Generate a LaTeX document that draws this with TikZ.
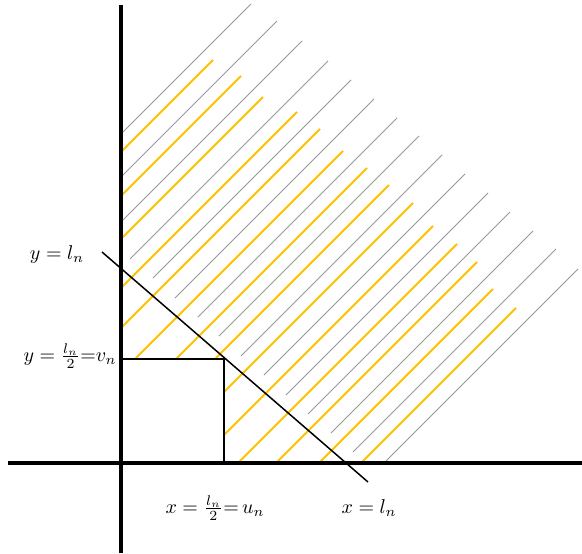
\documentclass[tikz,border=0pt]{standalone}
\usetikzlibrary{positioning}
\definecolor{hatchgold}{HTML}{FFC000}
\definecolor{hatchgray}{HTML}{999999}

\begin{document}
\begin{tikzpicture}[x=0.5pt, y=0.5pt,
  axisline/.style={line width=1.7pt},
  cutline/.style={line width=0.75pt},
  boxline/.style={line width=0.6pt},
  grayhatch/.style={draw=hatchgray, line width=0.45pt},
  goldhatch/.style={draw=hatchgold, line width=1pt},
  lbl/.style={inner sep=0pt}]
\useasboundingbox (-121,-90) rectangle (461,463);
% gray hatching: region above the cut
\foreach \xa/\ya/\xb/\yb in {0/329/130/459, 0/286/156/442, 0/241/181/422,
    9/204/207/402, 32/185/230/383, 54/165/253/364, 77/146/276/345,
    98/127/298/327, 120/107/321/308, 143/88/344/289, 165/68/367/270,
    187/49/389/251, 210/30/412/232, 232/11/435/214, 263/0/457/194}
  \draw[grayhatch] (\xa,\ya) -- (\xb,\yb);
% gold hatching: quadrant minus the box
\foreach \xa/\ya/\xb/\yb in {0/311/92/403, 0/267/120/387, 0/224/142/366,
    0/175/176/351, 0/135/199/334, 14/104/222/312, 55/104/246/295,
    94/104/268/278, 103/71/292/260, 103/28/312/237, 117/0/336/219,
    155/0/356/201, 198/0/372/174, 240/0/395/155}
  \draw[goldhatch] (\xa,\ya) -- (\xb,\yb);

\coordinate (xl) at (-113,0);
\coordinate (xr) at (461,0);
\coordinate (yb) at (0,-90);
\coordinate (yt) at (0,458);
\coordinate (cuta) at (-19,211);
\coordinate (cutb) at (247,-19);
\coordinate (vn) at (0,104);
\coordinate (cn) at (103,104);
\coordinate (un) at (103,0);

\draw[boxline] (vn) -- (cn) -- (un);
\draw[cutline] (cuta) -- (cutb);
\draw[axisline] (xl) -- (xr);
\draw[axisline] (yb) -- (yt);

\node[lbl] (ylab) at (-64,209) {$y = l_n$};
\node[lbl] (vlab) at (-51,107) {$y = \frac{l_n}{2}{=}v_n$};
\node[lbl] (ulab) at (94,-45) {$x = \frac{l_n}{2}{=}\,u_n$};
\node[lbl] (xlab) at (248,-45) {$x = l_n$};
\end{tikzpicture}
\end{document}
